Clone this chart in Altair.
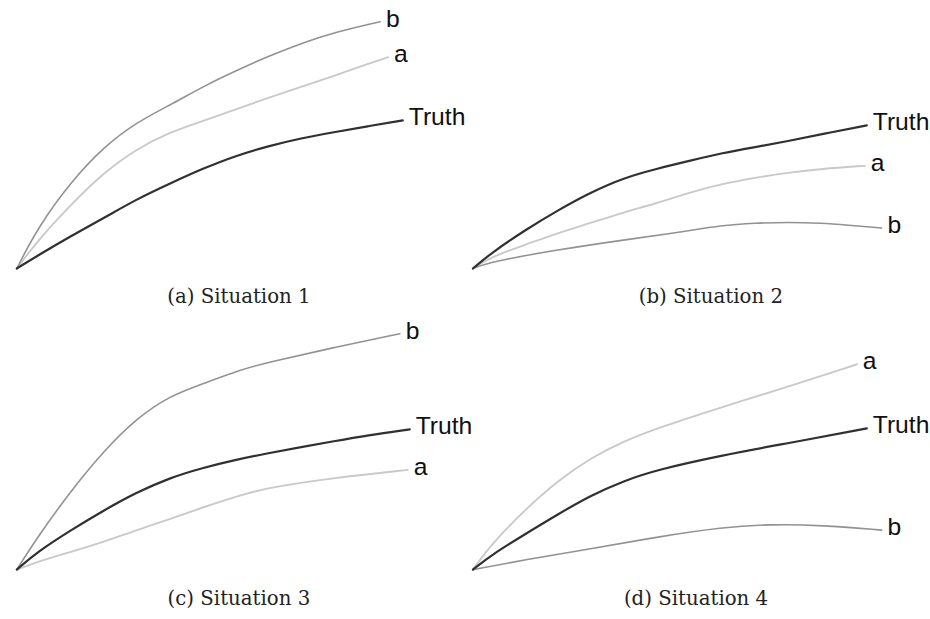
import altair as alt
import pandas as pd

SERIES = ["Truth", "a", "b"]
LINE_COLORS = ["#303030", "#c9c9c9", "#929292"]
LINE_WIDTHS = [2.2, 1.6, 1.9]

# Situation 1
s1_truth_x = [0, 21, 55, 88, 121, 155, 188, 221, 255, 288, 321, 355, 391]
s1_truth_y = [0, 13, 33, 51, 70, 86, 101, 114, 124, 132, 138, 144, 150]
s1_a_x = [0, 21, 55, 88, 121, 155, 188, 221, 255, 288, 321, 355, 376]
s1_a_y = [0, 28, 65, 97, 121, 138, 149, 161, 173, 184, 195, 207, 214]
s1_b_x = [0, 21, 55, 88, 121, 160, 188, 221, 255, 288, 321, 368]
s1_b_y = [0, 41, 88, 123, 148, 168, 184, 200, 215, 228, 239, 250]

# Situation 2
s2_truth_x = [0, 19, 53, 86, 119, 153, 186, 219, 253, 286, 319, 353, 399]
s2_truth_y = [0, 16, 39, 59, 77, 92, 101, 109, 117, 123, 129, 136, 145]
s2_a_x = [0, 19, 53, 86, 119, 153, 186, 219, 253, 286, 319, 353, 397]
s2_a_y = [0, 12, 24, 36, 46, 57, 66, 77, 86, 92, 97, 101, 104]
s2_b_x = [0, 19, 86, 153, 206, 253, 286, 319, 353, 379, 414]
s2_b_y = [0, 7, 19, 29, 36, 44, 46, 47, 46, 44, 41]

# Situation 3
s3_truth_x = [0, 21, 55, 88, 121, 155, 188, 221, 255, 288, 321, 355, 398]
s3_truth_y = [0, 18, 40, 60, 78, 93, 103, 111, 118, 124, 130, 136, 142]
s3_a_x = [0, 21, 55, 88, 121, 155, 188, 228, 255, 321, 396]
s3_a_y = [0, 8, 18, 28, 40, 51, 63, 76, 83, 93, 101]
s3_b_x = [0, 21, 55, 88, 121, 155, 188, 228, 255, 321, 388]
s3_b_y = [0, 33, 80, 120, 153, 176, 188, 203, 210, 225, 239]

# Situation 4
s4_truth_x = [0, 19, 53, 86, 119, 153, 186, 253, 319, 399]
s4_truth_y = [0, 15, 36, 56, 75, 90, 101, 116, 128, 143]
s4_a_x = [0, 19, 53, 86, 119, 153, 186, 253, 319, 389]
s4_a_y = [0, 26, 61, 90, 113, 130, 143, 165, 185, 208]
s4_b_x = [0, 53, 119, 186, 253, 303, 353, 414]
s4_b_y = [0, 10, 21, 33, 43, 46, 45, 40]

CAPTIONS = ["(a) Situation 1", "(b) Situation 2", "(c) Situation 3", "(d) Situation 4"]
CAPTION_DX = [0, 16, 0, 1]

PANELS = [
    {"Truth": (s1_truth_x, s1_truth_y), "a": (s1_a_x, s1_a_y), "b": (s1_b_x, s1_b_y)},
    {"Truth": (s2_truth_x, s2_truth_y), "a": (s2_a_x, s2_a_y), "b": (s2_b_x, s2_b_y)},
    {"Truth": (s3_truth_x, s3_truth_y), "a": (s3_a_x, s3_a_y), "b": (s3_b_x, s3_b_y)},
    {"Truth": (s4_truth_x, s4_truth_y), "a": (s4_a_x, s4_a_y), "b": (s4_b_x, s4_b_y)},
]

W, H = 450, 268


def panel(curves, caption, cap_dx):
    rows = []
    ends = []
    # light curves first so the Truth line sits on top
    for name in ["a", "b", "Truth"]:
        xs, ys = curves[name]
        for i, (x, y) in enumerate(zip(xs, ys)):
            rows.append({"series": name, "x": x, "y": y, "idx": i})
        ends.append({"series": name, "x": xs[-1], "y": ys[-1]})
    df = pd.DataFrame(rows)
    end_df = pd.DataFrame(ends)

    x_enc = alt.X("x:Q", scale=alt.Scale(domain=[0, W], nice=False), axis=None)
    y_enc = alt.Y("y:Q", scale=alt.Scale(domain=[0, H], nice=False), axis=None)

    lines = alt.Chart(df).mark_line(interpolate="basis", strokeCap="round").encode(
        x=x_enc,
        y=y_enc,
        color=alt.Color("series:N", scale=alt.Scale(domain=SERIES, range=LINE_COLORS), legend=None),
        strokeWidth=alt.StrokeWidth("series:N", scale=alt.Scale(domain=SERIES, range=LINE_WIDTHS), legend=None),
        order="idx:Q",
    )
    labels = alt.Chart(end_df).mark_text(
        align="left", baseline="middle", dx=6, dy=-3,
        font="Liberation Sans", fontSize=25, color="#111111",
    ).encode(x=x_enc, y=y_enc, text="series:N")

    return alt.layer(lines, labels).properties(
        width=W,
        height=H,
        title=alt.TitleParams(
            text=caption, orient="bottom", anchor="middle", offset=15, dx=cap_dx,
            font="DejaVu Serif", fontSize=20, fontWeight="normal", color="#222222",
        ),
    )


charts = [panel(PANELS[i], CAPTIONS[i], CAPTION_DX[i]) for i in range(4)]
chart = alt.concat(
    *charts, columns=2, spacing=alt.RowColnumber(row=37, column=12), bounds="flush"
).properties(
    padding={"left": 12, "top": 0, "right": 0, "bottom": 0},
    background="white",
).configure_view(stroke=None)

chart.save("out.html", embed_options={"renderer": "svg", "actions": False})
